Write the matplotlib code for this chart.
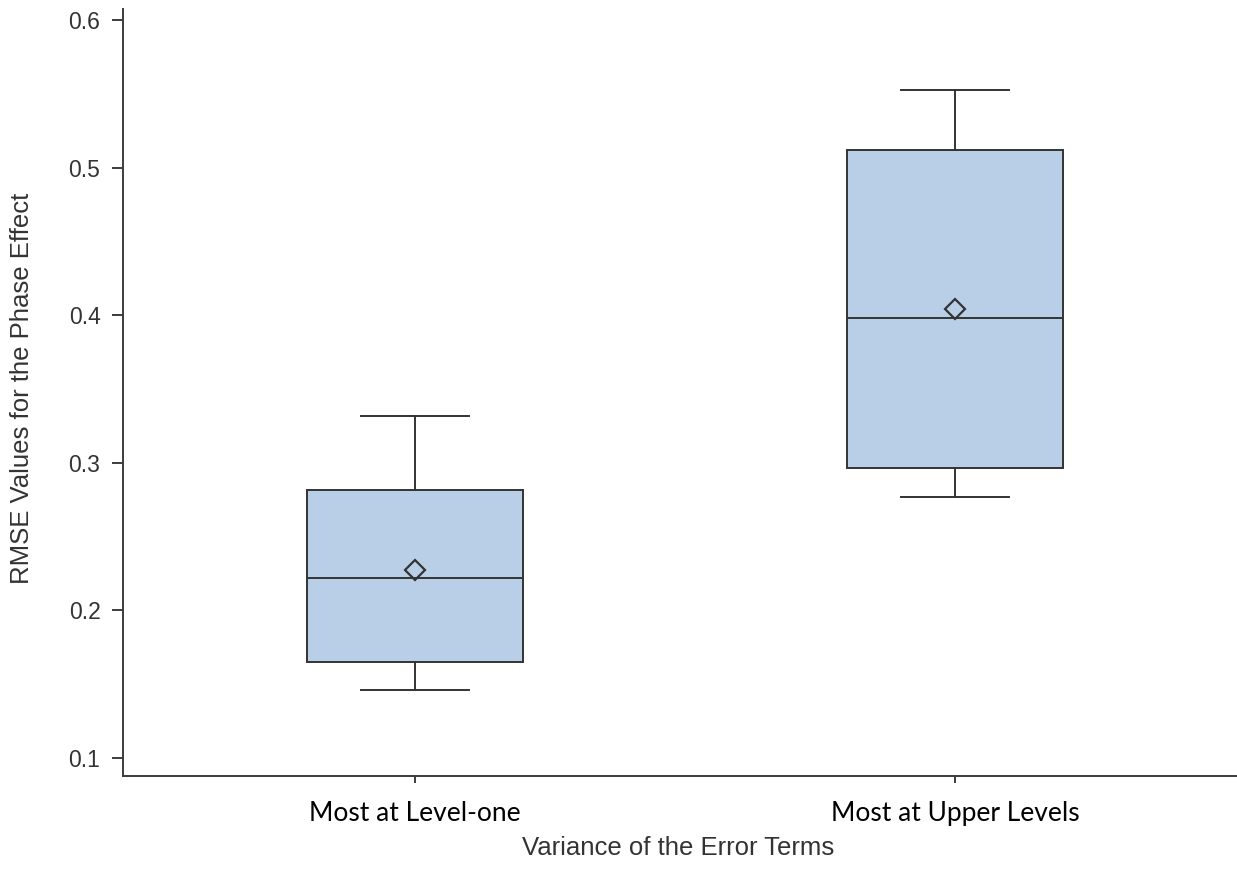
import matplotlib
matplotlib.use("Agg")
import matplotlib.pyplot as plt

# Summary statistics of RMSE values per error-variance condition
categories = ["Most at Level-one", "Most at Upper Levels"]
whisker_low = [0.146, 0.2765]
q1 = [0.1649, 0.2966]
median = [0.2215, 0.3979]
q3 = [0.2814, 0.5119]
whisker_high = [0.3317, 0.5525]
mean = [0.2273, 0.4045]
y_ticks = [0.1, 0.2, 0.3, 0.4, 0.5, 0.6]

edge = "#333333"
fill = "#b9cfe7"

stats = []
for i, name in enumerate(categories):
    stats.append(dict(label=name, whislo=whisker_low[i], q1=q1[i], med=median[i],
                      q3=q3[i], whishi=whisker_high[i], mean=mean[i], fliers=[]))

fig = plt.figure(figsize=(12.37, 8.69), dpi=100)
ax = fig.add_axes([0.0992, 0.107, 0.9008, 0.8826])

lw = 1.4
ax.bxp(stats, positions=[1, 2], widths=0.4, showmeans=True, patch_artist=True,
       boxprops=dict(facecolor=fill, edgecolor=edge, linewidth=lw),
       medianprops=dict(color=edge, linewidth=lw),
       whiskerprops=dict(color=edge, linewidth=lw),
       capprops=dict(color=edge, linewidth=lw),
       meanprops=dict(marker="D", markerfacecolor="none", markeredgecolor=edge,
                      markeredgewidth=1.6, markersize=10))

ax.set_xlim(0.4587, 2.522)
ax.set_ylim(0.0876, 0.6075)
ax.set_yticks(y_ticks)
ax.set_yticklabels([f"{v:.1f}" for v in y_ticks])

for s in ("top", "right"):
    ax.spines[s].set_visible(False)
for s in ("left", "bottom"):
    ax.spines[s].set_color("#3c3c3c")
    ax.spines[s].set_linewidth(1.4)

ax.tick_params(axis="y", length=8, width=1.4, color="#3c3c3c", pad=8,
               labelsize=16.5, labelcolor="#333333")
ax.tick_params(axis="x", length=5, width=1.4, color="#3c3c3c", pad=13,
               labelsize=19)
for t in ax.get_yticklabels():
    t.set_fontfamily("Liberation Sans")
for t in ax.get_xticklabels():
    t.set_fontfamily("Lato")
    t.set_color("black")

ax.set_ylabel("RMSE Values for the Phase Effect", fontsize=18.5,
              fontfamily="Liberation Sans", color="#333333")
ax.yaxis.set_label_coords(-0.080, 0.505)
ax.set_xlabel("Variance of the Error Terms", fontsize=18.5,
              fontfamily="Liberation Sans", color="#333333")
ax.xaxis.set_label_coords(0.498, -0.078)

fig.savefig("out.png", dpi=100)
